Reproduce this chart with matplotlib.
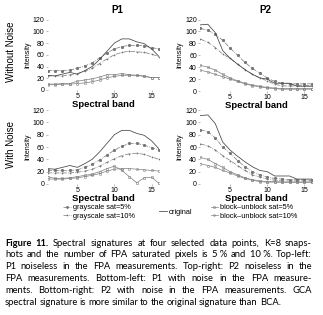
"""Spectral signatures figure (4 panels + legend + justified caption)."""
import matplotlib
matplotlib.use("Agg")  # noqa: E402
import matplotlib.pyplot as plt

W, H = 323, 315

bands = [1, 2, 3, 4, 5, 6, 7, 8, 9, 10, 11, 12, 13, 14, 15, 16]

p1_original = [25, 24, 27, 30, 27, 33, 40, 52, 66, 80, 87, 87, 82, 79, 70, 57]
p2_original = [111, 112, 98, 68, 55, 45, 36, 28, 22, 20, 13, 13, 13, 8, 8, 8]

# noiseless
p1_gray5 = [33, 33, 33, 34, 37, 41, 46, 55, 63, 70, 74, 76, 76, 75, 72, 70]
p1_gray10 = [24, 24, 24, 26, 28, 32, 37, 45, 53, 60, 64, 66, 65, 64, 61, 57]
p1_block5 = [10, 10, 11, 11, 15, 17, 19, 22, 26, 26, 28, 26, 25, 24, 21, 21]
p1_block10 = [9, 9, 10, 10, 11, 12, 14, 17, 21, 23, 25, 25, 25, 23, 21, 21]
p2_gray5 = [105, 102, 95, 85, 72, 60, 48, 38, 30, 22, 16, 13, 12, 12, 12, 12]
p2_gray10 = [87, 82, 73, 62, 55, 45, 36, 28, 22, 17, 11, 9, 8, 9, 9, 9]
p2_block5 = [43, 40, 35, 28, 22, 17, 13, 10, 8, 6, 5, 4, 4, 4, 4, 4]
p2_block10 = [35, 32, 28, 24, 20, 16, 12, 9, 7, 5, 4, 3, 3, 3, 3, 3]

# with noise
p1n_gray5 = [22, 22, 22, 22, 23, 27, 32, 39, 47, 55, 61, 66, 66, 63, 59, 55]
p1n_gray10 = [18, 18, 18, 18, 19, 21, 24, 29, 35, 41, 46, 49, 50, 48, 44, 40]
p1n_block5 = [12, 9, 9, 10, 12, 14, 16, 20, 25, 29, 22, 12, 2, 10, 11, 1]
p1n_block10 = [8, 8, 8, 9, 10, 12, 14, 17, 21, 24, 25, 25, 24, 23, 22, 21]
p2n_gray5 = [88, 85, 75, 60, 50, 38, 28, 20, 15, 11, 9, 8, 7, 7, 7, 6]
p2n_gray10 = [65, 62, 55, 46, 38, 30, 22, 15, 11, 8, 6, 5, 5, 5, 5, 5]
p2n_block5 = [43, 40, 33, 27, 20, 15, 10, 7, 5, 4, 4, 3, 3, 3, 3, 3]
p2n_block10 = [33, 30, 27, 22, 18, 13, 9, 6, 4, 3, 3, 3, 3, 3, 3, 3]

labels = ["grayscale sat=5%", "grayscale sat=10%", "original",
          "block\u2013unblock sat=5%", "block\u2013unblock sat=10%"]
yticks = [0, 20, 40, 60, 80, 100, 120]
xticks = [5, 10, 15]

caption = [
    "Figure 11. Spectral signatures at four selected data points, K=8 snaps-",
    "hots and the number of FPA saturated pixels is 5~% and 10~%. Top-left:",
    "P1 noiseless in the FPA measurements. Top-right: P2 noiseless in the",
    "FPA measurements. Bottom-left: P1 with noise in the FPA measure-",
    "ments. Bottom-right: P2 with noise in the FPA measurements. GCA",
    "spectral signature is more similar to the original signature than BCA.",
]

plt.rcParams["font.family"] = ["Liberation Sans", "DejaVu Sans"]

fig = plt.figure(figsize=(W / 100, H / 100), dpi=100)

STYLE = {
    "gray5": dict(color="#777777", lw=0.5, ls="-.", marker="*", ms=1.8),
    "gray10": dict(color="#777777", lw=0.5, ls="-.", marker="+", ms=1.8, mew=0.5),
    "orig": dict(color="#444444", lw=0.55, ls="-"),
    "block5": dict(color="#808080", lw=0.5, ls="-", marker="s", ms=1.6, mfc="none", mew=0.4),
    "block10": dict(color="#808080", lw=0.5, ls="-", marker="o", ms=1.6, mfc="none", mew=0.4),
}


def panel(rect, orig, g5, g10, b5, b10):
    ax = fig.add_axes(rect)
    h = []
    h += ax.plot(bands, g5, **STYLE["gray5"])
    h += ax.plot(bands, g10, **STYLE["gray10"])
    h += ax.plot(bands, orig, **STYLE["orig"])
    h += ax.plot(bands, b5, **STYLE["block5"])
    h += ax.plot(bands, b10, **STYLE["block10"])
    ax.set_xlim(1, 16)
    ax.set_ylim(0, 120)
    ax.set_xticks(xticks)
    ax.set_yticks(yticks)
    for s in ax.spines.values():
        s.set_visible(False)
    ax.tick_params(labelsize=5, length=1.5, width=0.4, pad=1, color="#888888")
    ax.set_ylabel("Intensity", fontsize=5, labelpad=1)
    ax.set_xlabel("Spectral band", fontsize=6.8, fontweight="bold", labelpad=0)
    return h


aw = 111.4 / W
panel([47.6 / W, 1 - 90 / H, aw, 70.5 / H], p1_original, p1_gray5, p1_gray10, p1_block5, p1_block10)
panel([200.4 / W, 1 - 91 / H, aw, 71.5 / H], p2_original, p2_gray5, p2_gray10, p2_block5, p2_block10)
panel([47.6 / W, 1 - 184 / H, aw, 74 / H], p1_original, p1n_gray5, p1n_gray10, p1n_block5, p1n_block10)
h = panel([200.4 / W, 1 - 184 / H, aw, 74 / H], p2_original, p2n_gray5, p2n_gray10, p2n_block5, p2n_block10)

fig.text(117 / W, 1 - 10 / H, "P1", fontsize=7, fontweight="bold", ha="center", va="center")
fig.text(265 / W, 1 - 10 / H, "P2", fontsize=7, fontweight="bold", ha="center", va="center")
fig.text(11 / W, 1 - 52 / H, "Without Noise", fontsize=7, rotation=90, ha="center", va="center")
fig.text(11 / W, 1 - 145 / H, "With Noise", fontsize=7, rotation=90, ha="center", va="center")

leg_kw = dict(frameon=False, fontsize=5.3, handlelength=1.0, handletextpad=0.3,
              labelspacing=0.2, borderpad=0, markerscale=0.8)
for idx, cx in (([0, 1], 99), ([2], 176), ([3, 4], 254)):
    fig.legend([h[i] for i in idx], [labels[i] for i in idx], loc="center",
               bbox_to_anchor=(cx / W, 1 - 212 / H), **leg_kw)

# justified caption, one word at a time
renderer = fig.canvas.get_renderer()
x0, x1 = 5.0, 312.0
cap_font = dict(family=["Lato", "DejaVu Sans"], fontsize=6.75, va="center", ha="left")
for li, line in enumerate(caption):
    words = line.split(" ")
    y = 1 - (243 + li * 11.9) / H
    texts = []
    for wi, word in enumerate(words):
        bold = li == 0 and wi < 2
        t = fig.text(0, y, word.replace("~", " "), fontweight="bold" if bold else "normal", **cap_font)
        texts.append(t)
    widths = [t.get_window_extent(renderer).width for t in texts]
    if li < len(caption) - 1:
        gap = (x1 - x0 - sum(widths)) / (len(words) - 1)
    else:
        gap = 2.0
    x = x0
    for t, w in zip(texts, widths):
        t.set_x(x / W)
        x += w + gap

fig.savefig("out.png", dpi=100)
plt.close(fig)
